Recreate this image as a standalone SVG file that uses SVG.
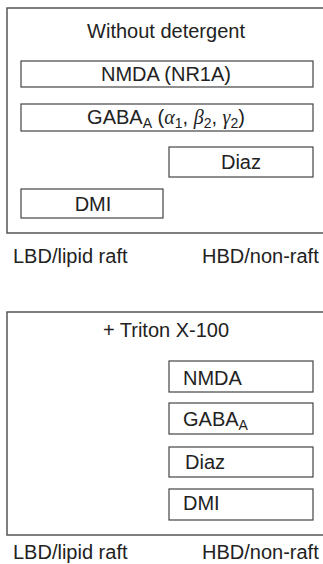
<svg xmlns="http://www.w3.org/2000/svg" width="323" height="564" viewBox="0 0 323 564">
<style>
.frame{fill:none;stroke:#555;stroke-width:1.5}
.box{fill:#fff;stroke:#444;stroke-width:1.2}
text{font-family:"Liberation Sans",Arial,sans-serif;font-size:20px;fill:#222}
.c{text-anchor:middle}
.g{font-family:"Liberation Serif","Times New Roman",serif;font-style:italic}
.sub{font-size:14px}
</style>
<rect width="323" height="564" fill="#fff"/>
<g id="panel1">
<path class="frame" d="M323,8 H7 V233 H323"/>
<text class="c" x="166" y="38">Without detergent</text>
</g>
<g id="p1-nmda"><rect class="box" x="21" y="61" width="292" height="26"/><text class="c" x="166" y="81">NMDA (NR1A)</text></g>
<g id="p1-gaba"><rect class="box" x="21" y="104" width="292" height="27"/><text class="c" x="166" y="124">GABA<tspan class="sub" dy="4">A</tspan><tspan dy="-4"> (</tspan><tspan class="g">α</tspan><tspan class="sub" dy="4">1</tspan><tspan dy="-4">, </tspan><tspan class="g">β</tspan><tspan class="sub" dy="4">2</tspan><tspan dy="-4">, </tspan><tspan class="g">γ</tspan><tspan class="sub" dy="4">2</tspan><tspan dy="-4">)</tspan></text></g>
<g id="p1-diaz"><rect class="box" x="169" y="147" width="144" height="30"/><text class="c" x="241" y="169">Diaz</text></g>
<g id="p1-dmi"><rect class="box" x="21" y="189" width="142" height="29"/><text class="c" x="93" y="211">DMI</text></g>
<g id="p1-labels"><text x="13" y="263">LBD/lipid raft</text><text x="202" y="263">HBD/non-raft</text></g>
<g id="panel2">
<path class="frame" d="M323,312 H7 V535 H323"/>
<text class="c" x="166" y="337">+ Triton X-100</text>
</g>
<g id="p2-nmda"><rect class="box" x="169" y="361" width="144" height="31"/><text x="183" y="385">NMDA</text></g>
<g id="p2-gaba"><rect class="box" x="169" y="403" width="144" height="31"/><text x="183" y="426">GABA<tspan class="sub" dy="4">A</tspan></text></g>
<g id="p2-diaz"><rect class="box" x="169" y="447" width="144" height="30"/><text x="185" y="469">Diaz</text></g>
<g id="p2-dmi"><rect class="box" x="169" y="489" width="144" height="31"/><text x="183" y="510">DMI</text></g>
<g id="p2-labels"><text x="13" y="559">LBD/lipid raft</text><text x="202" y="559">HBD/non-raft</text></g>
<g id="connectors"></g>
</svg>
